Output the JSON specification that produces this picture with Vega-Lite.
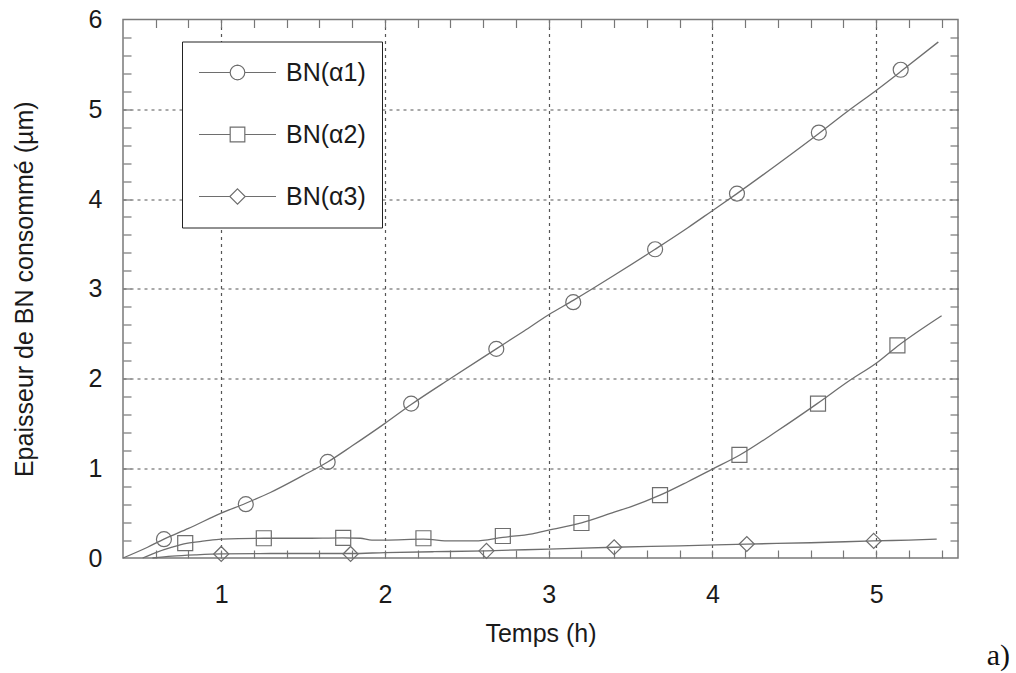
{
  "$schema": "https://vega.github.io/schema/vega-lite/v6.json",
  "width": 835,
  "height": 538.5,
  "autosize": {"type": "none"},
  "padding": {"left": 123, "top": 19.5, "right": 58, "bottom": 115},
  "background": "white",
  "config": {
    "view": {"stroke": "#7a7a7a", "strokeWidth": 1.5},
    "font": "Liberation Sans"
  },
  "title": {
    "text": "a)",
    "orient": "bottom",
    "anchor": "end",
    "frame": "group",
    "font": "Liberation Serif",
    "fontSize": 30,
    "fontWeight": "normal",
    "color": "#111111",
    "dx": 52,
    "offset": -5
  },
  "datasets": {
    "curves": [
      {"series": "BN(α1)", "t": 0.40, "e": 0.00},
      {"series": "BN(α1)", "t": 0.55, "e": 0.12},
      {"series": "BN(α1)", "t": 0.65, "e": 0.21},
      {"series": "BN(α1)", "t": 0.80, "e": 0.33},
      {"series": "BN(α1)", "t": 1.00, "e": 0.50},
      {"series": "BN(α1)", "t": 1.15, "e": 0.61},
      {"series": "BN(α1)", "t": 1.30, "e": 0.73},
      {"series": "BN(α1)", "t": 1.50, "e": 0.92},
      {"series": "BN(α1)", "t": 1.65, "e": 1.07},
      {"series": "BN(α1)", "t": 1.80, "e": 1.25},
      {"series": "BN(α1)", "t": 2.00, "e": 1.50},
      {"series": "BN(α1)", "t": 2.16, "e": 1.71},
      {"series": "BN(α1)", "t": 2.40, "e": 2.00},
      {"series": "BN(α1)", "t": 2.68, "e": 2.33},
      {"series": "BN(α1)", "t": 2.85, "e": 2.53},
      {"series": "BN(α1)", "t": 3.00, "e": 2.71},
      {"series": "BN(α1)", "t": 3.15, "e": 2.87},
      {"series": "BN(α1)", "t": 3.40, "e": 3.15},
      {"series": "BN(α1)", "t": 3.65, "e": 3.44},
      {"series": "BN(α1)", "t": 3.85, "e": 3.68},
      {"series": "BN(α1)", "t": 4.00, "e": 3.87},
      {"series": "BN(α1)", "t": 4.15, "e": 4.06},
      {"series": "BN(α1)", "t": 4.40, "e": 4.39},
      {"series": "BN(α1)", "t": 4.65, "e": 4.73},
      {"series": "BN(α1)", "t": 4.82, "e": 4.97},
      {"series": "BN(α1)", "t": 5.00, "e": 5.21},
      {"series": "BN(α1)", "t": 5.15, "e": 5.42},
      {"series": "BN(α1)", "t": 5.38, "e": 5.75},
      {"series": "BN(α2)", "t": 0.52, "e": 0.00},
      {"series": "BN(α2)", "t": 0.60, "e": 0.06},
      {"series": "BN(α2)", "t": 0.70, "e": 0.12},
      {"series": "BN(α2)", "t": 0.78, "e": 0.16},
      {"series": "BN(α2)", "t": 0.90, "e": 0.19},
      {"series": "BN(α2)", "t": 1.00, "e": 0.21},
      {"series": "BN(α2)", "t": 1.26, "e": 0.22},
      {"series": "BN(α2)", "t": 1.50, "e": 0.22},
      {"series": "BN(α2)", "t": 1.74, "e": 0.225},
      {"series": "BN(α2)", "t": 1.85, "e": 0.22},
      {"series": "BN(α2)", "t": 1.92, "e": 0.20},
      {"series": "BN(α2)", "t": 2.00, "e": 0.20},
      {"series": "BN(α2)", "t": 2.235, "e": 0.21},
      {"series": "BN(α2)", "t": 2.40, "e": 0.19},
      {"series": "BN(α2)", "t": 2.55, "e": 0.19},
      {"series": "BN(α2)", "t": 2.72, "e": 0.23},
      {"series": "BN(α2)", "t": 2.90, "e": 0.27},
      {"series": "BN(α2)", "t": 3.00, "e": 0.31},
      {"series": "BN(α2)", "t": 3.20, "e": 0.39},
      {"series": "BN(α2)", "t": 3.40, "e": 0.51},
      {"series": "BN(α2)", "t": 3.50, "e": 0.57},
      {"series": "BN(α2)", "t": 3.68, "e": 0.70},
      {"series": "BN(α2)", "t": 3.85, "e": 0.85},
      {"series": "BN(α2)", "t": 4.00, "e": 0.99},
      {"series": "BN(α2)", "t": 4.17, "e": 1.15},
      {"series": "BN(α2)", "t": 4.40, "e": 1.42},
      {"series": "BN(α2)", "t": 4.64, "e": 1.72},
      {"series": "BN(α2)", "t": 4.84, "e": 1.98},
      {"series": "BN(α2)", "t": 5.00, "e": 2.17},
      {"series": "BN(α2)", "t": 5.13, "e": 2.36},
      {"series": "BN(α2)", "t": 5.40, "e": 2.70},
      {"series": "BN(α3)", "t": 0.58, "e": 0.00},
      {"series": "BN(α3)", "t": 0.70, "e": 0.02},
      {"series": "BN(α3)", "t": 0.85, "e": 0.035},
      {"series": "BN(α3)", "t": 1.00, "e": 0.045},
      {"series": "BN(α3)", "t": 1.30, "e": 0.05},
      {"series": "BN(α3)", "t": 1.60, "e": 0.05},
      {"series": "BN(α3)", "t": 1.79, "e": 0.05},
      {"series": "BN(α3)", "t": 2.00, "e": 0.06},
      {"series": "BN(α3)", "t": 2.30, "e": 0.07},
      {"series": "BN(α3)", "t": 2.62, "e": 0.08},
      {"series": "BN(α3)", "t": 3.00, "e": 0.10},
      {"series": "BN(α3)", "t": 3.40, "e": 0.12},
      {"series": "BN(α3)", "t": 3.80, "e": 0.135},
      {"series": "BN(α3)", "t": 4.21, "e": 0.155},
      {"series": "BN(α3)", "t": 4.60, "e": 0.17},
      {"series": "BN(α3)", "t": 4.985, "e": 0.19},
      {"series": "BN(α3)", "t": 5.20, "e": 0.20},
      {"series": "BN(α3)", "t": 5.37, "e": 0.21}
    ],
    "markers": [
      {"series": "BN(α1)", "t": 0.65, "e": 0.21},
      {"series": "BN(α1)", "t": 1.15, "e": 0.60},
      {"series": "BN(α1)", "t": 1.65, "e": 1.07},
      {"series": "BN(α1)", "t": 2.16, "e": 1.72},
      {"series": "BN(α1)", "t": 2.68, "e": 2.33},
      {"series": "BN(α1)", "t": 3.15, "e": 2.85},
      {"series": "BN(α1)", "t": 3.65, "e": 3.44},
      {"series": "BN(α1)", "t": 4.15, "e": 4.06},
      {"series": "BN(α1)", "t": 4.65, "e": 4.74},
      {"series": "BN(α1)", "t": 5.15, "e": 5.44},
      {"series": "BN(α2)", "t": 0.78, "e": 0.165},
      {"series": "BN(α2)", "t": 1.26, "e": 0.22},
      {"series": "BN(α2)", "t": 1.745, "e": 0.225},
      {"series": "BN(α2)", "t": 2.235, "e": 0.22},
      {"series": "BN(α2)", "t": 2.72, "e": 0.245},
      {"series": "BN(α2)", "t": 3.20, "e": 0.39},
      {"series": "BN(α2)", "t": 3.68, "e": 0.70},
      {"series": "BN(α2)", "t": 4.165, "e": 1.15},
      {"series": "BN(α2)", "t": 4.645, "e": 1.72},
      {"series": "BN(α2)", "t": 5.13, "e": 2.37},
      {"series": "BN(α3)", "t": 1.00, "e": 0.045},
      {"series": "BN(α3)", "t": 1.79, "e": 0.045},
      {"series": "BN(α3)", "t": 2.62, "e": 0.08},
      {"series": "BN(α3)", "t": 3.40, "e": 0.12},
      {"series": "BN(α3)", "t": 4.21, "e": 0.156},
      {"series": "BN(α3)", "t": 4.985, "e": 0.19}
    ]
  },
  "layer": [
    {
      "data": {"name": "curves"},
      "mark": {"type": "line", "color": "#6e6e6e", "strokeWidth": 1.3, "interpolate": "monotone"},
      "encoding": {
        "x": {
          "field": "t", "type": "quantitative",
          "scale": {"domain": [0.4, 5.5], "nice": false, "zero": false},
          "axis": {
            "orient": "bottom",
            "values": [1, 2, 3, 4, 5],
            "format": "d",
            "labelOverlap": false, "labelFlush": false, "labelBound": false,
            "domain": false, "ticks": false,
            "grid": true, "gridWidth": 1.2, "gridColor": "#555555", "gridDash": [3, 4],
            "labelFontSize": 25, "labelPadding": 24, "labelColor": "#1a1a1a", "labelFont": "Liberation Sans",
            "title": "Temps (h)", "titleFontSize": 25, "titleFontWeight": "normal", "titleColor": "#1a1a1a", "titleFont": "Liberation Sans", "titlePadding": 14
          }
        },
        "y": {
          "field": "e", "type": "quantitative",
          "scale": {"domain": [0, 6], "nice": false, "zero": false},
          "axis": {
            "orient": "left",
            "values": [0, 1, 2, 3, 4, 5, 6],
            "format": "d",
            "labelOverlap": false, "labelFlush": false, "labelBound": false,
            "domain": false, "ticks": false,
            "grid": true, "gridWidth": 1.2, "gridColor": "#555555", "gridDash": [3, 4],
            "gridOpacity": {"condition": {"test": "datum.value === 0 || datum.value === 6", "value": 0}, "value": 1},
            "labelFontSize": 25, "labelPadding": 21, "labelColor": "#1a1a1a", "labelFont": "Liberation Sans",
            "title": "Epaisseur de BN consommé (µm)", "titleFontSize": 25, "titleFontWeight": "normal", "titleColor": "#1a1a1a", "titleFont": "Liberation Sans", "titlePadding": 51
          }
        },
        "detail": {"field": "series", "type": "nominal"}
      }
    },
    {
      "data": {"name": "markers"},
      "mark": {"type": "point", "filled": false, "color": "#6e6e6e", "strokeWidth": 1.2, "size": 225, "opacity": 1},
      "encoding": {
        "x": {
          "field": "t", "type": "quantitative",
          "scale": {"domain": [0.4, 5.5], "nice": false, "zero": false},
          "axis": {
            "orient": "top",
            "values": [0.6, 0.8, 1, 1.2, 1.4, 1.6, 1.8, 2, 2.2, 2.4, 2.6, 2.8, 3, 3.2, 3.4, 3.6, 3.8, 4, 4.2, 4.4, 4.6, 4.8, 5, 5.2, 5.4],
            "labels": false, "domain": false, "title": null, "ticks": false,
            "grid": true, "gridWidth": 1.2, "gridColor": "#777777", "gridDash": [8, 531]
          }
        },
        "y": {
          "field": "e", "type": "quantitative",
          "scale": {"domain": [0, 6], "nice": false, "zero": false},
          "axis": {
            "orient": "right",
            "values": [0.2, 0.4, 0.6, 0.8, 1, 1.2, 1.4, 1.6, 1.8, 2, 2.2, 2.4, 2.6, 2.8, 3, 3.2, 3.4, 3.6, 3.8, 4, 4.2, 4.4, 4.6, 4.8, 5, 5.2, 5.4, 5.6, 5.8],
            "labels": false, "domain": false, "title": null, "ticks": false,
            "grid": true, "gridWidth": 1.2, "gridColor": "#777777", "gridDash": [8, 828]
          }
        },
        "shape": {
          "field": "series", "type": "nominal",
          "scale": {"domain": ["BN(α1)", "BN(α2)", "BN(α3)"], "range": ["circle", "square", "diamond"]},
          "legend": null
        }
      }
    },
    {
      "data": {"name": "markers"},
      "mark": {"type": "point", "filled": false, "color": "#6e6e6e", "strokeWidth": 1.2, "size": 0, "opacity": 1},
      "encoding": {
        "x": {
          "field": "t", "type": "quantitative",
          "scale": {"domain": [0.4, 5.5], "nice": false, "zero": false},
          "axis": {
            "orient": "bottom",
            "values": [0.6, 0.8, 1, 1.2, 1.4, 1.6, 1.8, 2, 2.2, 2.4, 2.6, 2.8, 3, 3.2, 3.4, 3.6, 3.8, 4, 4.2, 4.4, 4.6, 4.8, 5, 5.2, 5.4],
            "labels": false, "domain": false, "title": null, "ticks": false,
            "grid": true, "gridWidth": 1.2, "gridColor": "#777777", "gridDash": [8, 531]
          }
        },
        "y": {
          "field": "e", "type": "quantitative",
          "scale": {"domain": [0, 6], "nice": false, "zero": false},
          "axis": {
            "orient": "left",
            "values": [0.2, 0.4, 0.6, 0.8, 1, 1.2, 1.4, 1.6, 1.8, 2, 2.2, 2.4, 2.6, 2.8, 3, 3.2, 3.4, 3.6, 3.8, 4, 4.2, 4.4, 4.6, 4.8, 5, 5.2, 5.4, 5.6, 5.8],
            "labels": false, "domain": false, "title": null, "ticks": false,
            "grid": true, "gridWidth": 1.2, "gridColor": "#777777", "gridDash": [8, 828]
          }
        },
        "shape": {
          "field": "series", "type": "nominal",
          "scale": {
            "domain": ["BN(α1)", "BN(α2)", "BN(α3)"],
            "range": [
              "M-1,0L-0.19,0M0.19,0L1,0M0.19,0L0.1755,0.0727L0.1344,0.1344L0.0727,0.1755L0,0.19L-0.0727,0.1755L-0.1344,0.1344L-0.1755,0.0727L-0.19,0L-0.1755,-0.0727L-0.1344,-0.1344L-0.0727,-0.1755L0,-0.19L0.0727,-0.1755L0.1344,-0.1344L0.1755,-0.0727Z",
              "M-1,0L-0.19,0M0.19,0L1,0M-0.19,-0.19L0.19,-0.19L0.19,0.19L-0.19,0.19Z",
              "M-1,0L-0.19,0M0.19,0L1,0M0,-0.2L0.2,0L0,0.2L-0.2,0Z"
            ]
          },
          "legend": {
            "title": null,
            "orient": "none", "legendX": 59, "legendY": 22,
            "fillColor": "white", "strokeColor": "#222222",
            "padding": 16, "rowPadding": 32, "clipHeight": 30,
            "symbolSize": 5929, "symbolStrokeWidth": 1.2, "symbolStrokeColor": "#6e6e6e", "symbolFillColor": "transparent", "symbolOpacity": 1,
            "labelFontSize": 25, "labelFont": "Liberation Sans", "labelColor": "#1a1a1a", "labelOffset": 9, "labelLimit": 300,
            "encode": {
              "legend": {"update": {"strokeWidth": {"value": 1.6}}}
            }
          }
        }
      }
    }
  ],
  "resolve": {
    "axis": {"x": "independent", "y": "independent"},
    "scale": {"shape": "independent"}
  }
}
